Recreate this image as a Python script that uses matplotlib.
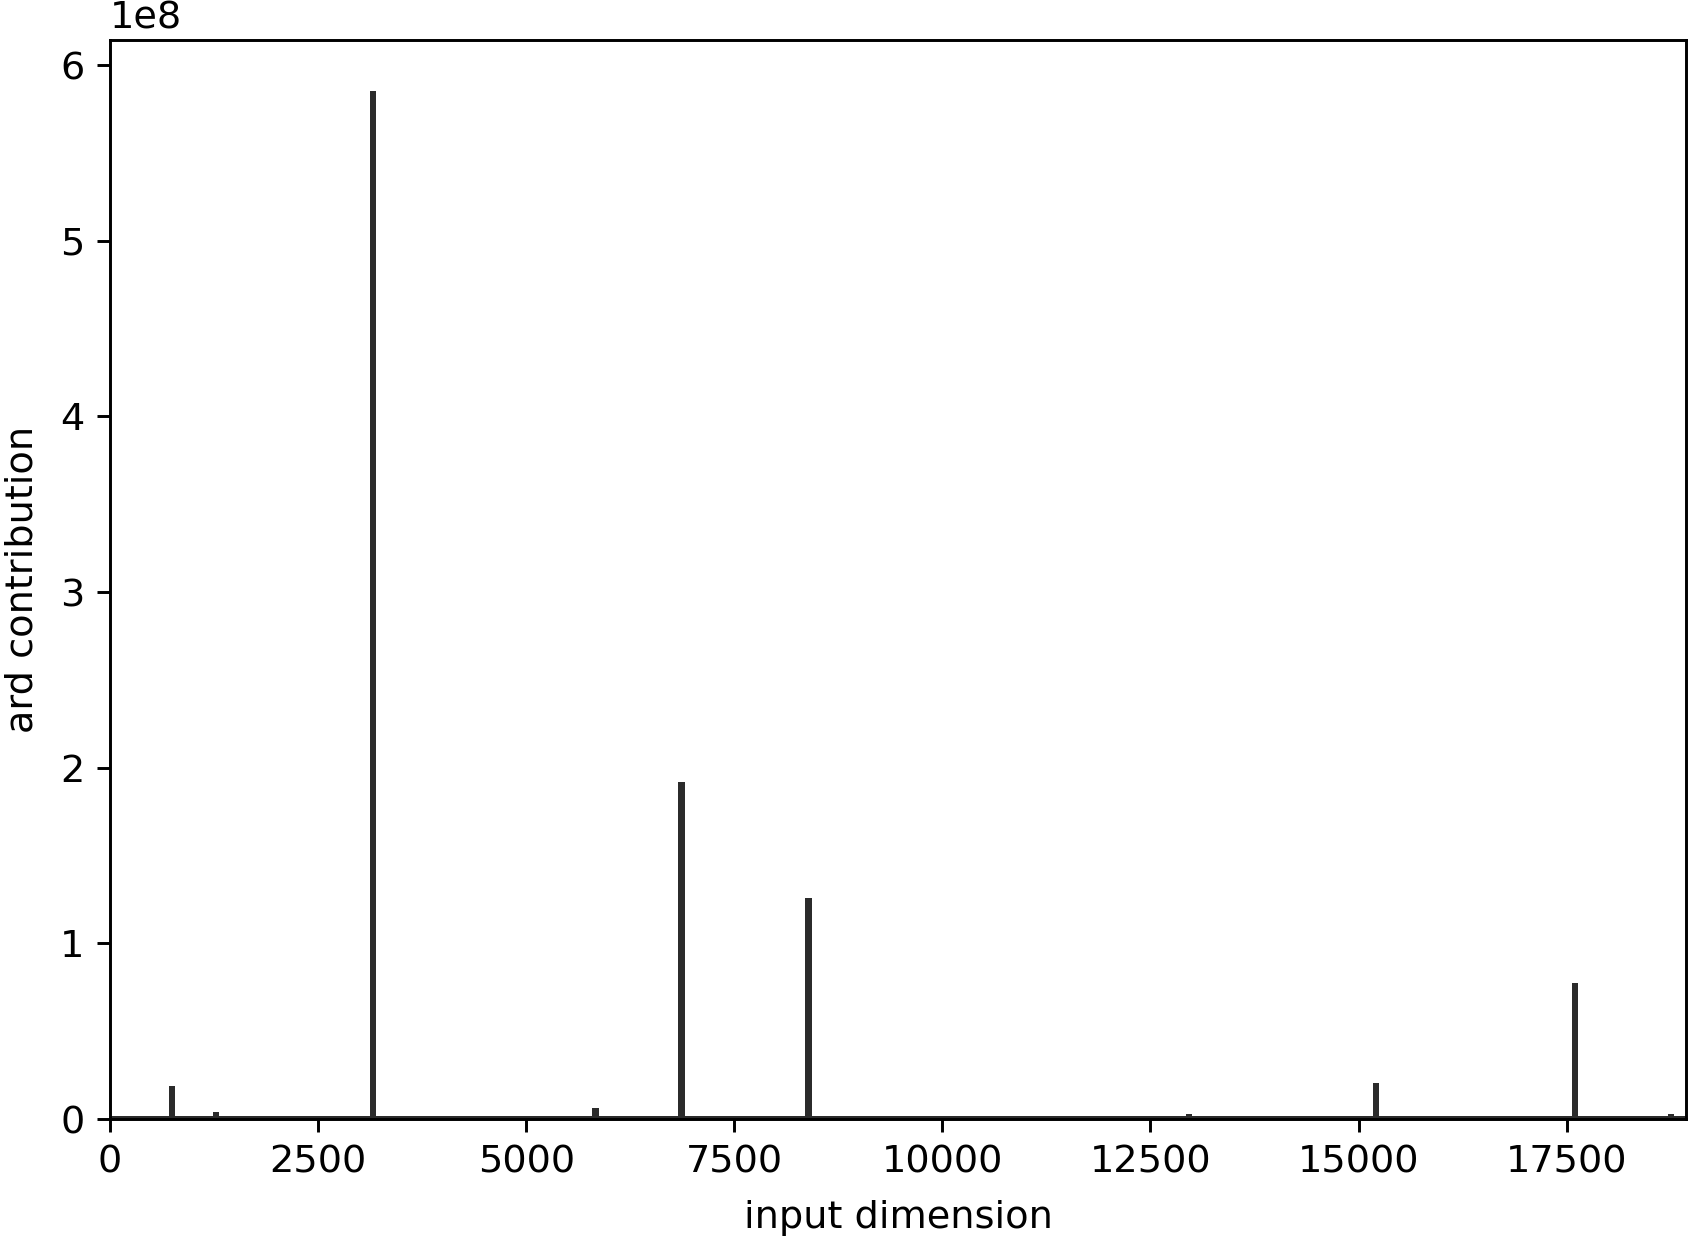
import numpy as np
import matplotlib
matplotlib.use("Agg")
import matplotlib.pyplot as plt

# number of input dimensions (x axis runs 0..n_dims)
n_dims = 18935

# low floor shared by almost every dimension
floor_level = 1.9e6

# dimensions that stand out, and their ard contribution
peak_dims = [745, 1270, 3155, 5833, 6864, 8390, 12963, 15206, 17598, 18750]
peak_values = [0.188e8, 0.041e8, 5.85e8, 0.065e8, 1.916e8, 1.256e8,
               0.028e8, 0.207e8, 0.772e8, 0.028e8]

bar_color = "#2b2b2b"

plt.rcParams["font.size"] = 10.45


def build_contributions():
    """Per-dimension contribution: flat floor plus the few large peaks"""
    ard = np.full(n_dims, floor_level)
    ard[peak_dims] = peak_values
    return ard


def plot_ard(ard, filepath="out.png"):
    fig = plt.figure(figsize=(1691 / 264, 1238 / 264), dpi=264)
    ax = fig.add_axes([0.0651, 0.0961, 0.9320, 0.8716])

    dims = np.arange(len(ard))
    ax.bar(dims, ard, width=76, color=bar_color, linewidth=0)

    ax.set_xlim(0, n_dims)
    ax.set_xlabel("input dimension", labelpad=5.3)
    ax.set_ylabel("ard contribution", labelpad=5.2)

    fig.savefig(filepath, dpi=264)
    plt.close(fig)


if __name__ == "__main__":
    plot_ard(build_contributions())
